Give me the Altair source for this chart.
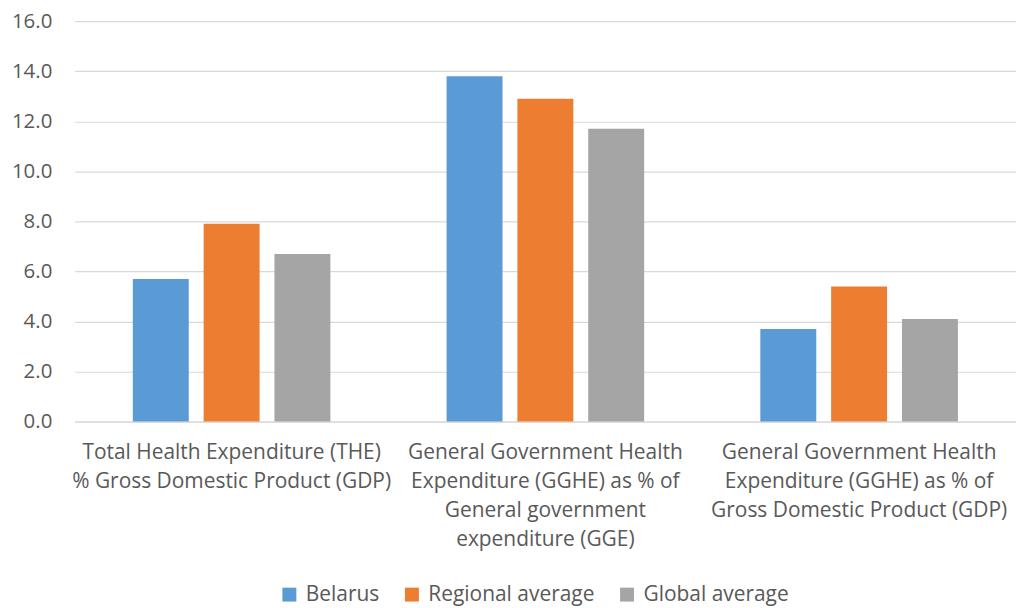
import altair as alt
import pandas as pd

categories = [
    "Total Health Expenditure (THE)|% Gross Domestic Product (GDP)",
    "General Government Health|Expenditure (GGHE) as % of|General government|expenditure (GGE)",
    "General Government Health|Expenditure (GGHE) as % of|Gross Domestic Product (GDP)",
]
series = ["Belarus", "Regional average", "Global average"]
belarus = [5.7, 13.8, 3.7]
regional = [7.9, 12.9, 5.4]
global_avg = [6.7, 11.7, 4.1]
colors = ["#5B9BD5", "#ED7D31", "#A5A5A5"]
y_ticks = [0, 2, 4, 6, 8, 10, 12, 14, 16]

rows = []
for s, vals in zip(series, [belarus, regional, global_avg]):
    for c, v in zip(categories, vals):
        rows.append({"category": c, "series": s, "value": v})
df = pd.DataFrame(rows)

FONT = "Open Sans"
TXT = "#595959"

chart = alt.Chart(df).mark_bar().encode(
    x=alt.X("category:N", sort=categories, title=None,
            scale=alt.Scale(paddingInner=0, paddingOuter=0),
            axis=alt.Axis(labelAngle=0, labelExpr="split(datum.label, '|')",
                          labelLineHeight=29, labelFontSize=21, labelFont=FONT,
                          labelColor=TXT, labelPadding=20, labelBaseline="top",
                          ticks=False, domainColor="#D9D9D9", labelLimit=400)),
    xOffset=alt.XOffset("series:N", sort=series,
                        scale=alt.Scale(paddingInner=0.21, paddingOuter=0.82)),
    y=alt.Y("value:Q", title=None,
            scale=alt.Scale(domain=[0, 16], nice=False),
            axis=alt.Axis(values=y_ticks, format=".1f", labelFontSize=20.5, labelFont=FONT,
                          labelColor=TXT, labelPadding=23, ticks=False, domain=False,
                          gridColor="#D9D9D9", gridWidth=1.2)),
    color=alt.Color("series:N", sort=series,
                    scale=alt.Scale(domain=series, range=colors),
                    legend=alt.Legend(title=None, orient="none", direction="horizontal",
                                      legendX=205, legendY=565,
                                      symbolType="square", symbolSize=196,
                                      symbolStrokeWidth=0, labelLimit=400,
                                      labelFontSize=21, labelFont=FONT, labelColor=TXT,
                                      labelOffset=6, columnPadding=22)),
).properties(
    width=945, height=402,
    autosize=alt.AutoSizeParams(type="none"),
    padding={"left": 67, "top": 12, "right": 0, "bottom": 186},
).configure_view(stroke=None)

chart.save("out.html", embed_options={"renderer": "svg", "actions": False})
